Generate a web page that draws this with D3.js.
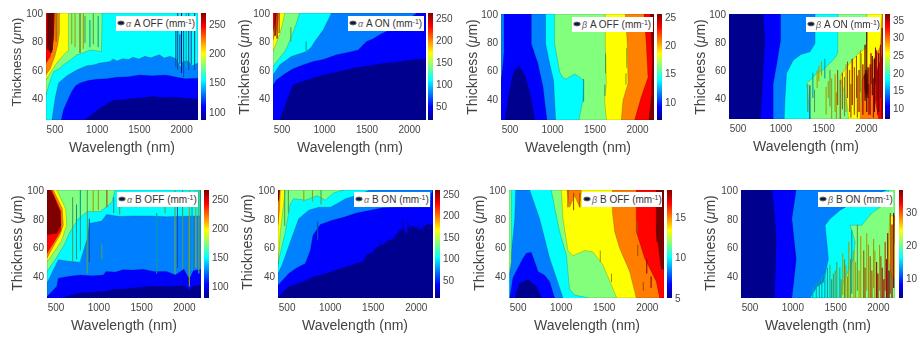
<!DOCTYPE html>
<html>
<head>
<meta charset="utf-8">
<script src="https://d3js.org/d3.v7.min.js"></script>
<style>
  html, body { margin: 0; padding: 0; background: #fff; }
  svg { display: block; filter: blur(0.45px); font-family: "Liberation Sans", Arial, sans-serif; }
  .tick text { fill: #444; font-size: 10px; }
  .axis-label { fill: #444; text-anchor: middle; }
</style>
</head>
<body>
<svg id="chart" width="923" height="341"></svg>
<script>
const wavelengthTicks = [500, 1000, 1500, 2000];
const thicknessTicks = [40, 60, 80, 100];
const wavelengthExtent = [400, 2200];
const thicknessExtent = [25, 100];

// every band is [level, boundary polygon in (nm, um)], painted in order over the base level
const alphaAOffColorRange = [86, 269];
const alphaAOffColorTicks = [100, 150, 200, 250];
const alphaAOffBase = 86;
const alphaAOffBands = [
  [109, [[862,25],[950,29],[1038,33],[1120,36],[1194,38.6],[1300,39],[1429,40],[1550,40.4],[1664,41.4],[1780,40.6],[1899,41],[2050,40.2],[2200,39.8],[2200,100],[400,100],[400,25]]],
  [132, [[580,25],[607,32],[650,38],[705,45],[750,49],[803,51],[900,52.6],[999,53.6],[1120,54],[1233,55],[1380,55.4],[1507,56.6],[1660,56],[1820,56.6],[1950,55],[2050,54],[2200,54.3],[2200,100],[400,100],[400,25]]],
  [155, [[470,25],[510,41],[549,51],[647,56],[764,60],[881,63],[960,63.6],[1038,65],[1110,65.4],[1160,66],[1194,67.7],[1240,66.4],[1310,68],[1380,67.4],[1429,69],[1500,67.8],[1570,69.6],[1640,68.6],[1742,70.7],[1800,68.4],[1870,69.6],[1938,68],[1990,62],[2020,66],[2080,66.4],[2130,63],[2200,65],[2200,100],[400,100],[400,25]]],
  [177, [[400,42.6],[440,51],[490,59],[550,60.5],[607,63.7],[690,67],[764,70.7],[840,72],[920,74],[990,73.6],[1057,73],[1065,100],[400,100]]],
  [200, [[400,53],[460,59],[529,65],[600,70],[666,74],[666,100],[400,100]]],
  [223, [[400,56.6],[451,61],[510,70.7],[540,78],[560,86],[560,100],[400,100]]],
  [246, [[400,65],[451,69.5],[490,81],[502,100],[400,100]]],
  [269, [[415,100],[412,75],[470,72],[490,85],[492,100]]]
];
const alphaAOffSpikes = [
  [430,76,100,269],[452,72,100,269],[472,74,100,269],[520,80,100,223],[540,83,100,200],
  [705,78,100,200],[744,76,100,200],[803,72,100,223],[842,75,100,200],[862,79,98,177],
  [920,76,95,155],[960,78,100,177],[1018,76,98,155],
  [1938,62,90,132],[1960,60,100,132],[1985,64,85,132],[2005,58,100,109],[2030,55,95,132],
  [2060,62,100,155],[2090,60,100,132],[2120,64,88,132],[2160,60,100,132]
];

const alphaAOnColorRange = [20, 261];
const alphaAOnColorTicks = [50, 100, 150, 200, 250];
const alphaAOnBase = 20;
const alphaAOnBands = [
  [50, [[479,25],[560,38],[636,49.6],[750,52],[872,54.3],[1030,57],[1186,59],[1360,61.4],[1540,63],[1700,64.6],[1854,65.5],[2030,67],[2200,68],[2200,100],[400,100],[400,25]]],
  [80, [[400,49.6],[439,53],[530,57],[636,61],[750,63.6],[872,66],[1000,67.6],[1147,70.7],[1280,72.4],[1402,74],[1450,77],[1500,80],[1580,82],[1658,85],[1800,89],[1960,94],[2090,100],[400,100]]],
  [110, [[400,56.6],[479,63.7],[616,69.5],[793,73],[850,76],[891,80],[940,84],[990,88],[1040,94],[1088,100],[400,100]]],
  [140, [[400,62.5],[470,68],[538,73],[580,78],[616,83.6],[660,90],[714,100],[400,100]]],
  [170, [[400,73],[440,79],[479,85],[510,92],[538,100],[400,100]]],
  [200, [[400,81],[439,88],[479,100],[400,100]]],
  [230, [[400,87],[425,93],[445,100],[400,100]]]
];
const alphaAOnSpikes = [
  [425,84,100,261],[448,82,100,230],[472,86,100,200],[610,80,90,140],[790,72,80,110]
];

const betaAOffColorRange = [6.8, 25.5];
const betaAOffColorTicks = [10, 15, 20, 25];
const betaAOffBase = 9.1;
const betaAOffBands = [
  [6.8, [[447,25],[502,46],[535,56],[561,60],[612,63],[645,60],[678,57],[720,48],[757,39],[780,31],[796,25]]],
  [11.5, [[400,100],[435,100],[435,73],[416,60],[400,53]]],
  [11.5, [[757,100],[757,79],[800,71],[835,65],[870,55],[894,48.6],[920,35],[941,25],[2200,25],[2200,100]]],
  [13.8, [[925,100],[925,79],[972,65],[1019,53],[1030,40],[1043,25],[2200,25],[2200,100]]],
  [16.2, [[1031,100],[1031,79],[1060,69],[1090,59],[1125,55],[1168,54],[1220,56],[1266,57.5],[1310,56],[1372,53],[1368,46],[1364,39],[1340,32],[1317,25],[2200,25],[2200,100]]],
  [18.5, [[1627,100],[1627,79],[1639,51],[1619,39],[1640,25],[2200,25],[2200,100]]],
  [20.8, [[1862,100],[1886,79],[1894,51],[1835,39],[1815,25],[2200,25],[2200,100]]],
  [23.2, [[2082,100],[2109,79],[2129,55],[2050,41.5],[1972,25],[2200,25],[2200,100]]],
  [25.5, [[2156,100],[2180,67],[2168,40],[2140,25],[2200,25],[2200,100]]]
];
const betaAOffSpikes = [
  [1372,38,54,13.8],[1630,58,72,16.2],[1622,42,50,16.2],[1880,62,76,18.5],[1870,50,58,18.5]
];

const betaAOnColorRange = [6.9, 36.7];
const betaAOnColorTicks = [10, 15, 20, 25, 30, 35];
const betaAOnBase = 6.9;
const betaAOnBands = [
  [10.6, [[799,100],[819,81],[800,62],[768,25],[2200,25],[2200,100]]],
  [14.4, [[1003,100],[1003,81],[960,65],[917,50],[917,25],[2200,25],[2200,100]]],
  [18.1, [[1406,100],[1406,79],[1347,73],[1240,71],[1151,67],[1073,57.6],[1055,40],[1046,25],[2200,25],[2200,100]]],
  [21.8, [[1672,100],[1672,72],[1630,68],[1582,65],[1500,60],[1425,57.6],[1370,54],[1308,50.5],[1320,44],[1327,38.6],[1347,25],[2200,25],[2200,100]]],
  [25.5, [[2012,100],[2012,81],[1993,75.5],[1900,71],[1816,65],[1750,60],[1699,55],[1740,46],[1777,38.6],[1797,25],[2200,25],[2200,100]]],
  [29.3, [[2188,100],[2169,76.6],[2110,70],[2051,62],[1990,58],[1953,53],[1940,40],[1934,25],[2200,25],[2200,100]]],
  [33, [[2200,72],[2129,60],[2110,52],[2090,43],[2120,34],[2149,25],[2200,25]]],
  [36.7, [[1980,56],[2015,58],[2030,45],[2000,40],[1985,46]]]
];
const betaAOnSpikes = [
  [1320,30,50,21.8],[1345,25,49,14.4],[1380,40,58,18.1],[1430,47,60,25.5],[1450,52,63,25.5],[1480,56,66,25.5],
  [1520,54,68,18.1],[1560,40,52,25.5],[1600,25,54,25.5],[1640,30,57,25.5],[1670,35,60,29.3],[1700,25,53,29.3],
  [1725,32,58,29.3],[1750,27,55,21.8],[1785,40,66,29.3],[1810,30,60,29.3],[1840,35,68,33],[1865,28,62,29.3],
  [1890,40,70,29.3],[1920,30,60,33],[1945,36,72,25.5],[1965,28,64,33],[1990,38,78,36.7],[2010,30,88,36.7],
  [2025,40,62,36.7],[2050,28,64,33],[2075,42,70,36.7],[2100,30,68,36.7],[2125,38,74,33],[2150,30,72,36.7],
  [2170,40,78,33],[2190,26,90,36.7],[1400,30,46,21.8],[1535,28,48,25.5],[1580,34,60,21.8],[1655,25,44,25.5],
  [1768,30,64,25.5],[1825,26,50,29.3],[1900,26,56,29.3],[1935,44,74,25.5],[2000,44,60,36.7],[2035,28,50,33],
  [2060,50,72,33],[2088,26,54,33],[2112,50,76,33],[2138,28,60,33]
];

const alphaBOffColorRange = [79, 267];
const alphaBOffColorTicks = [100, 150, 200, 250];
const alphaBOffBase = 79;
const alphaBOffBands = [
  [102, [[591,25],[680,27],[786,28.5],[940,29],[1097,29.6],[1180,31],[1290,31],[1409,32],[1600,33],[1799,33],[2010,33.4],[2064,30],[2100,33],[2200,34],[2200,100],[400,100],[400,25]]],
  [126, [[400,26],[513,33],[532,38.8],[640,40],[786,41],[930,40.4],[1058,41],[1090,43.4],[1200,43],[1290,44.6],[1409,44.5],[1520,45],[1650,43.4],[1799,43.4],[1900,41],[2000,45],[2064,38],[2110,44],[2200,45],[2200,100],[400,100]]],
  [149, [[400,35.4],[474,44.5],[532,51.5],[660,50.5],[786,49.8],[871,66.4],[895,76.8],[1039,78.4],[1097,83],[1250,81.6],[1409,82],[1600,82],[1799,81.4],[2000,81.8],[2200,82],[2200,100],[400,100]]],
  [173, [[400,43.4],[494,51.5],[591,60.7],[670,71],[766,80],[870,85],[1020,85],[1110,89],[1160,92],[1195,100],[400,100]]],
  [196, [[400,50],[494,58],[571,65],[630,75.6],[618,87],[514,100],[400,100]]],
  [220, [[400,52.6],[474,60.7],[552,68.7],[591,75.6],[580,87],[474,100],[400,100]]],
  [243, [[400,56],[494,65],[564,72],[564,85],[454,100],[400,100]]],
  [267, [[400,69],[513,70],[564,75.6],[552,85],[474,96],[435,100],[400,100]]]
];
const alphaBOffSpikes = [
  [700,50,95,173],[745,52,90,149],[790,58,100,149],[871,42,100,173],[895,50,80,126],[940,85,100,196],
  [1000,86,100,196],[1039,52,62,173],[1100,88,100,220],[1180,84,95,149],[1250,83,92,173],[1682,42,84,149],
  [1780,84,96,173],[1896,42,100,173],[1925,46,90,126],[1985,45,100,173],[2064,33,100,196],[2095,44,96,149],
  [2140,46,100,196],[2175,42,100,173],[2195,50,100,149]
];

const alphaBOnColorRange = [8, 259];
const alphaBOnColorTicks = [50, 100, 150, 200, 250];
const alphaBOnBase = 8;
const alphaBOnBands = [
  [39, [[400,25.7],[524,32.6],[680,36],[814,39.6],[970,42],[1124,45.4],[1260,48],[1395,50.5],[1430,55],[1490,56],[1549,60.4],[1620,62],[1680,65],[1743,66],[1800,71],[1859,74],[1880,69],[1930,75],[2000,74],[2060,72],[2130,76],[2200,75.5],[2200,100],[400,100]]],
  [71, [[400,33.8],[524,42],[620,46],[717,49],[775,58],[806,68.5],[891,76],[1030,79],[1162,81],[1310,84],[1472,86],[1620,87.6],[1782,88],[2000,88],[2170,88],[2178,97],[2200,100],[400,100]]],
  [102, [[400,42],[446,47.7],[543,64],[640,80],[756,86],[872,88],[1007,88],[1100,91],[1182,94],[1300,96],[1472,100],[400,100]]],
  [133, [[400,49],[485,71],[543,90.5],[582,94],[720,93],[853,96],[950,93],[1046,98],[1162,100],[400,100]]],
  [165, [[400,47.7],[427,71],[458,87],[485,100],[400,100]]],
  [196, [[400,75.5],[419,87],[427,100],[400,100]]],
  [259, [[400,92],[412,94],[420,100],[400,100]]]
];
const alphaBOnSpikes = [
  [478,75,100,133],[860,65,78,71],[520,84,100,133],[700,92,100,165],[800,92,100,165],[900,90,100,133],
  [1850,72,80,39],[1905,70,78,39],[2030,72,78,39],[2090,70,76,39],[2150,72,77,39],[1580,60,65,39]
];

const betaBOffColorRange = [5, 18.3];
const betaBOffColorTicks = [5, 10, 15];
const betaBOffBase = 10;
const betaBOffBands = [
  [8.3, [[477,100],[640,100],[756,80],[872,52.6],[950,39],[1027,25],[408,25],[408,43.4],[466,80]]],
  [6.7, [[408,25],[446,39],[562,52.6],[600,56],[659,56.7],[700,50],[737,43.4],[810,41],[872,36.5],[930,25]]],
  [5, [[466,25],[524,35],[621,37.6],[717,33],[775,25]]],
  [11.7, [[400,100],[427,100],[427,50],[410,43.4],[400,41]]],
  [11.7, [[891,100],[940,85],[988,71],[1066,55],[1104,31],[1162,27],[1336,25],[2200,25],[2200,100]]],
  [13.3, [[1008,100],[1027,80],[1085,58],[1143,54.4],[1278,58],[1375,57],[1491,48],[1627,28.5],[1654,25],[2200,25],[2200,100]]],
  [15, [[1600,100],[1600,85],[1627,71],[1685,59.5],[1801,43.4],[1878,25],[2200,25],[2200,100]]],
  [15, [[1073,100],[1104,88],[1162,96],[1220,88],[1240,100]]],
  [16.6, [[1878,100],[1878,71],[1975,52.6],[2110,36.5],[2149,25],[2200,25],[2200,100]]],
  [18.3, [[2110,100],[2110,72],[2169,45],[2200,45],[2200,100]]]
];
const betaBOffSpikes = [
  [1085,88,100,15],[1150,86,98,15],[1222,88,98,15],[1460,50,58,13.3],[1590,36,42,13.3],[1890,70,78,15],
  [1895,54,62,15],[2000,42,52,16.6],[2050,32,40,16.6],[2120,64,76,18.3],[1960,30,36,15]
];

const betaBOnColorRange = [4, 36.7];
const betaBOnColorTicks = [10, 20, 30];
const betaBOnBase = 4;
const betaBOnBands = [
  [8.1, [[762,100],[795,80],[812,64],[800,44],[789,25],[2200,25],[2200,100]]],
  [12.2, [[1045,100],[995,80],[1045,52],[1020,38],[995,25],[2200,25],[2200,100]]],
  [16.3, [[1209,25],[1290,33],[1364,36],[1422,52],[1384,75.5],[1442,80],[1559,86],[1675,90],[2103,100],[2200,100],[2200,25]]],
  [20.4, [[1559,25],[1597,36],[1714,52],[1734,64],[1675,75.5],[1811,75.5],[1928,84],[2084,90.5],[2130,100],[2200,100],[2200,25]]],
  [24.4, [[2142,82],[2130,68.5],[2122,52],[2161,40.7],[2200,38],[2200,82]]],
  [28.5, [[2185,82],[2195,74],[2200,62],[2200,82]]]
];
const betaBOnSpikes = [
  [1240,25,33,16.3],[1280,25,36,16.3],[1315,25,38,16.3],[1345,25,41,16.3],[1380,25,42,16.3],[1410,25,46,16.3],
  [1440,25,48,20.4],[1480,25,42,20.4],[1520,25,50,20.4],[1555,25,46,20.4],[1590,27,56,24.4],[1625,25,48,24.4],
  [1660,25,64,24.4],[1695,28,72,16.3],[1720,25,58,24.4],[1760,30,76,20.4],[1800,25,68,24.4],[1835,25,58,28.5],
  [1870,30,70,24.4],[1910,25,54,28.5],[1950,32,66,24.4],[1985,25,50,32.6],[2020,30,62,24.4],[2050,25,46,32.6],
  [2085,30,64,28.5],[2115,25,70,32.6],[2145,28,84,28.5],[2165,25,76,32.6],[2185,32,84,36.7],
  [1460,25,38,16.3],[1500,25,44,20.4],[1570,25,38,20.4],[1610,25,52,20.4],[1645,25,40,24.4],[1680,25,52,20.4],
  [1740,25,50,24.4],[1780,25,44,24.4],[1850,25,46,28.5],[1890,25,62,24.4],[1930,25,44,28.5],[1965,25,58,24.4],
  [2000,25,42,32.6],[2035,25,54,28.5],[2070,25,38,32.6],[2100,25,52,32.6],[2130,25,44,36.7]
];

const panelNames = ["A OFF", "A ON", "A OFF", "A ON", "B OFF", "B ON", "B OFF", "B ON"];
const panelGreek = ["α", "α", "β", "β", "α", "α", "β", "β"];

const panels = [
  { range: alphaAOffColorRange, ticks: alphaAOffColorTicks, base: alphaAOffBase, bands: alphaAOffBands, spikes: alphaAOffSpikes,
    box: [46, 198, 13, 120], bar: [201, 206], legend: [116, 16, 80], thick: [16, 62, 13], wave: [122, 147] },
  { range: alphaAOnColorRange, ticks: alphaAOnColorTicks, base: alphaAOnBase, bands: alphaAOnBands, spikes: alphaAOnSpikes,
    box: [273, 426, 13, 120], bar: [428, 433], legend: [348, 16, 76], thick: [244, 67, 14], wave: [350, 147] },
  { range: betaAOffColorRange, ticks: betaAOffColorTicks, base: betaAOffBase, bands: betaAOffBands, spikes: betaAOffSpikes,
    box: [501, 654, 14, 120], bar: [657, 662], legend: [572, 17, 81], thick: [472, 67, 14], wave: [578, 147] },
  { range: betaAOnColorRange, ticks: betaAOnColorTicks, base: betaAOnBase, bands: betaAOnBands, spikes: betaAOnSpikes,
    box: [729, 883, 14, 119], bar: [885, 890], legend: [806, 17, 74], thick: [700, 67, 14], wave: [806, 146] },
  { range: alphaBOffColorRange, ticks: alphaBOffColorTicks, base: alphaBOffBase, bands: alphaBOffBands, spikes: alphaBOffSpikes,
    box: [47, 201, 190, 298], bar: [204, 209], legend: [117, 192, 81], thick: [17, 243, 14], wave: [124, 325] },
  { range: alphaBOnColorRange, ticks: alphaBOnColorTicks, base: alphaBOnBase, bands: alphaBOnBands, spikes: alphaBOnSpikes,
    box: [278, 433, 190, 298], bar: [435, 440], legend: [354, 192, 76], thick: [247, 242, 14], wave: [355, 325] },
  { range: betaBOffColorRange, ticks: betaBOffColorTicks, base: betaBOffBase, bands: betaBOffBands, spikes: betaBOffSpikes,
    box: [509, 664, 190, 298], bar: [667, 672], legend: [582, 192, 80], thick: [479, 243, 14], wave: [587, 325] },
  { range: betaBOnColorRange, ticks: betaBOnColorTicks, base: betaBOnBase, bands: betaBOnBands, spikes: betaBOnSpikes,
    box: [741, 895, 190, 298], bar: [899, 903], legend: [818, 192, 75], thick: [710, 243, 14], wave: [818, 325] }
];

const jet = d3.scaleLinear()
  .domain([0, 0.125, 0.375, 0.625, 0.875, 1])
  .range(["#00008f", "#0000ff", "#00ffff", "#ffff00", "#ff0000", "#800000"])
  .clamp(true);

const svg = d3.select("#chart");
const defs = svg.append("defs");
const plainNumber = d3.format("d");

function drawPanel(p, i) {
  const [x0, x1, y0, y1] = p.box;
  const xScale = d3.scaleLinear().domain(wavelengthExtent).range([x0, x1]);
  const yScale = d3.scaleLinear().domain(thicknessExtent).range([y1, y0]);
  const colorPos = d3.scaleLinear().domain(p.range).range([0, 1]);
  const colorOf = (v) => jet(colorPos(v));

  const line = d3.line().x((d) => xScale(d[0])).y((d) => yScale(d[1]));

  defs.append("clipPath").attr("id", "clip" + i)
    .append("rect").attr("x", x0).attr("y", y0).attr("width", x1 - x0).attr("height", y1 - y0);

  const g = svg.append("g").attr("clip-path", "url(#clip" + i + ")");

  g.append("rect")
    .attr("x", x0).attr("y", y0).attr("width", x1 - x0).attr("height", y1 - y0)
    .attr("fill", colorOf(p.base));

  g.selectAll("path.band")
    .data(p.bands)
    .join("path")
    .attr("class", "band")
    .attr("d", (d) => line(d[1]) + "Z")
    .attr("fill", (d) => colorOf(d[0]))
    .attr("stroke", "#000")
    .attr("stroke-opacity", 0.35)
    .attr("stroke-width", 0.5);

  g.selectAll("line.spike-fill")
    .data(p.spikes)
    .join("line")
    .attr("class", "spike-fill")
    .attr("x1", (d) => xScale(d[0])).attr("x2", (d) => xScale(d[0]))
    .attr("y1", (d) => yScale(d[1])).attr("y2", (d) => yScale(d[2]))
    .attr("stroke", (d) => colorOf(d[3]))
    .attr("stroke-width", 1);

  g.selectAll("line.spike-dark")
    .data(p.spikes)
    .join("line")
    .attr("class", "spike-dark")
    .attr("x1", (d) => xScale(d[0])).attr("x2", (d) => xScale(d[0]))
    .attr("y1", (d) => yScale(d[1])).attr("y2", (d) => yScale(d[2]))
    .attr("stroke", "#111")
    .attr("stroke-opacity", 0.75)
    .attr("stroke-width", 0.6);

  // axes, no tick marks in the source figure
  const xAxis = svg.append("g").attr("transform", "translate(0," + y1 + ")")
    .call(d3.axisBottom(xScale).tickValues(wavelengthTicks).tickFormat(plainNumber).tickSize(0).tickPadding(6));
  xAxis.select(".domain").remove();

  const yAxis = svg.append("g").attr("transform", "translate(" + x0 + ",0)")
    .call(d3.axisLeft(yScale).tickValues(thicknessTicks).tickFormat(plainNumber).tickSize(0).tickPadding(3));
  yAxis.select(".domain").remove();

  // colour bar
  const [bx0, bx1] = p.bar;
  const barScale = d3.scaleLinear().domain(p.range).range([y1, y0]);
  const gradId = "grad" + i;
  const grad = defs.append("linearGradient").attr("id", gradId)
    .attr("x1", 0).attr("y1", 1).attr("x2", 0).attr("y2", 0);
  grad.selectAll("stop")
    .data(jet.domain())
    .join("stop")
    .attr("offset", (d) => d)
    .attr("stop-color", (d) => jet(d));
  svg.append("rect")
    .attr("x", bx0).attr("y", y0).attr("width", bx1 - bx0).attr("height", y1 - y0)
    .attr("fill", "url(#" + gradId + ")");
  const barAxis = svg.append("g").attr("transform", "translate(" + bx1 + ",0)")
    .call(d3.axisRight(barScale).tickValues(p.ticks).tickFormat(plainNumber).tickSize(0).tickPadding(3));
  barAxis.select(".domain").remove();

  // axis titles
  svg.append("text").attr("class", "axis-label")
    .attr("x", p.wave[0]).attr("y", p.wave[1]).attr("dy", "0.35em")
    .attr("font-size", 14)
    .text("Wavelength (nm)");

  const thick = svg.append("text").attr("class", "axis-label")
    .attr("transform", "translate(" + p.thick[0] + "," + p.thick[1] + ") rotate(-90)")
    .attr("dy", "0.35em")
    .attr("font-size", p.thick[2]);
  thick.append("tspan").text("Thickness (");
  thick.append("tspan").attr("font-style", "italic").text("μ");
  thick.append("tspan").text("m)");

  // legend box
  const [lx, ly, lw] = p.legend;
  const lg = svg.append("g").attr("transform", "translate(" + lx + "," + ly + ")");
  lg.append("rect").attr("width", lw).attr("height", 15).attr("fill", "#fff");
  lg.append("ellipse").attr("cx", 5).attr("cy", 7).attr("rx", 3.2).attr("ry", 1.9)
    .attr("fill", "#10106a").attr("stroke", "#556b3a").attr("stroke-width", 1);
  const label = lg.append("text").attr("x", 10).attr("y", 11).attr("fill", "#333").attr("font-size", 10);
  label.append("tspan").attr("fill", "#666").attr("font-style", "italic").attr("font-size", 9).text(panelGreek[i]);
  label.append("tspan").text(" " + panelNames[i] + " (mm");
  label.append("tspan").attr("font-size", 7).attr("dy", -3.5).text("-1");
  label.append("tspan").attr("dy", 3.5).text(")");
}

panels.forEach(drawPanel);
</script>
</body>
</html>
